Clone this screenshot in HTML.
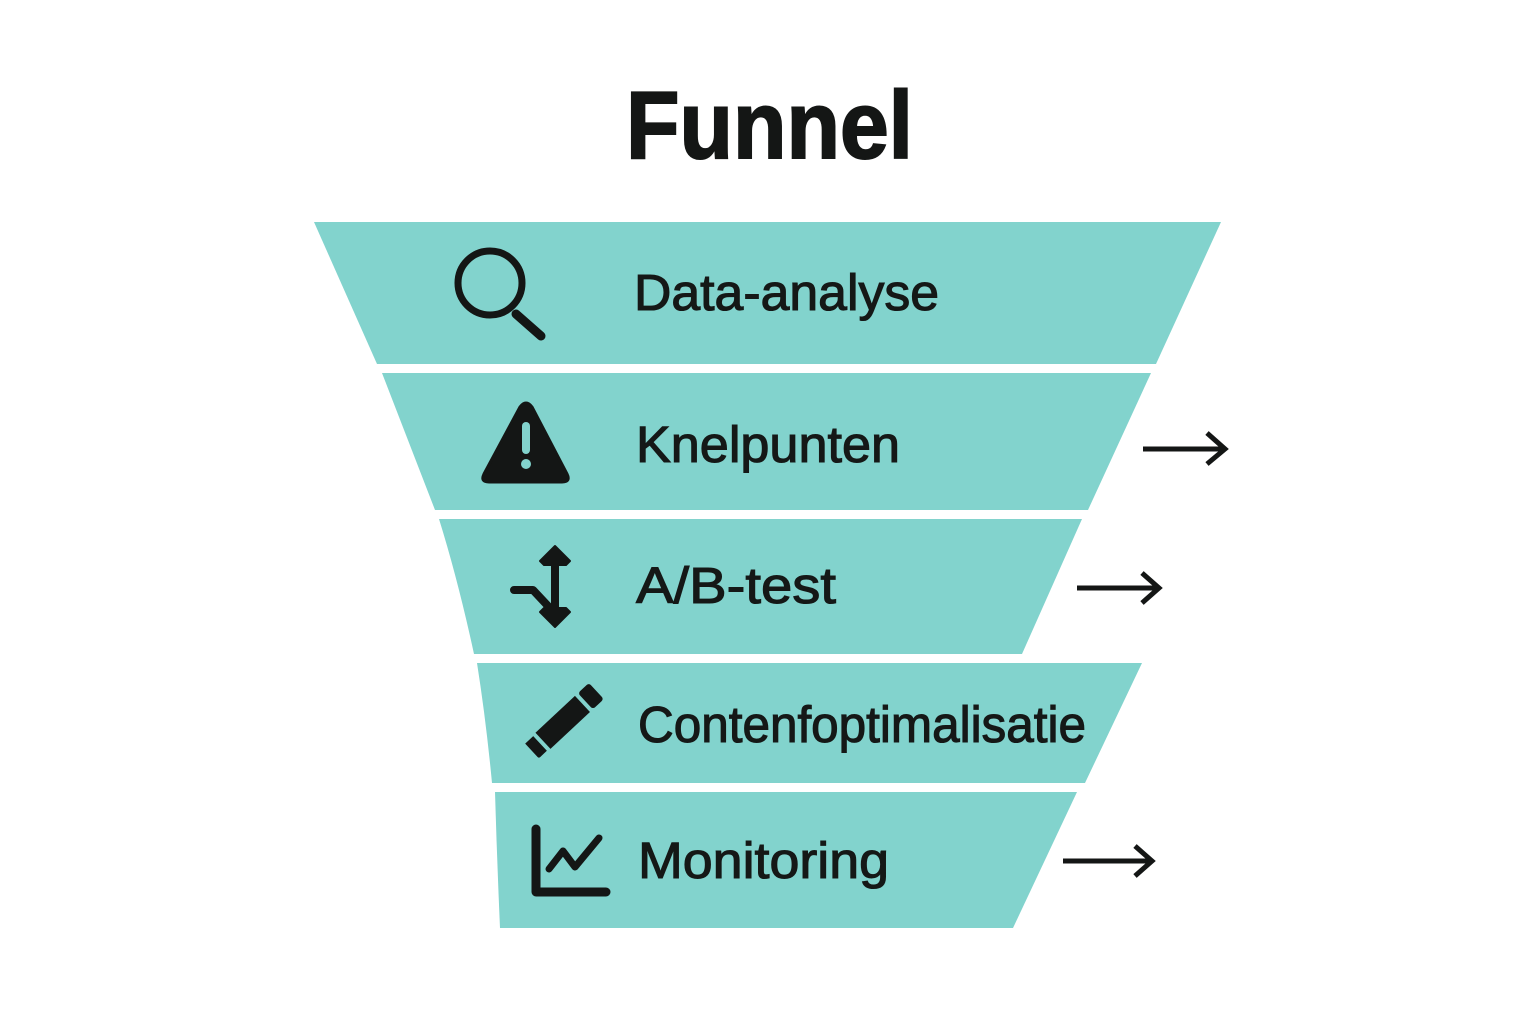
<!DOCTYPE html>
<html>
<head>
<meta charset="utf-8">
<style>
  html,body{margin:0;padding:0;background:#fff;}
  svg{display:block;}
  .lbl{font-family:"Liberation Sans",Arial,sans-serif;font-size:51px;fill:#151817;stroke:#151817;stroke-width:1.1px;}
</style>
</head>
<body>
<svg width="1536" height="1024" viewBox="0 0 1536 1024" xmlns="http://www.w3.org/2000/svg">
  <rect width="1536" height="1024" fill="#ffffff"/>

  <!-- Title -->
  <text x="626" y="158" textLength="287" lengthAdjust="spacingAndGlyphs" font-family="Liberation Sans, Arial, sans-serif" font-weight="700" font-size="96" fill="#141615" stroke="#141615" stroke-width="2">Funnel</text>

  <!-- Funnel bands -->
  <g fill="#82d3cd">
    <polygon points="314,222 1221,222 1156,364 377,364"/>
    <polygon points="382,373 1151,373 1088,510 435,510"/>
    <path d="M439,519 L1082,519 L1022,654 L474,654 Q458,580 439,519 Z"/>
    <path d="M477,663 L1142,663 L1085,783 L492,783 Q486,720 477,663 Z"/>
    <path d="M495,792 L1077,792 L1013,928 L500,928 Q497,860 495,792 Z"/>
  </g>

  <!-- Labels -->
  <text class="lbl" x="634" y="310" textLength="305" lengthAdjust="spacingAndGlyphs">Data-analyse</text>
  <text class="lbl" x="636" y="462" textLength="264" lengthAdjust="spacingAndGlyphs">Knelpunten</text>
  <text class="lbl" x="636" y="603" textLength="200" lengthAdjust="spacingAndGlyphs">A/B-test</text>
  <text class="lbl" x="638" y="742" textLength="448" lengthAdjust="spacingAndGlyphs">Contenfoptimalisatie</text>
  <text class="lbl" x="638" y="878" textLength="251" lengthAdjust="spacingAndGlyphs">Monitoring</text>

  <!-- Icon: magnifier -->
  <g fill="none" stroke="#141615" stroke-linecap="round">
    <circle cx="490" cy="283" r="32" stroke-width="7"/>
    <line x1="516" y1="314" x2="541" y2="336" stroke-width="9"/>
  </g>

  <!-- Icon: warning -->
  <path d="M520,407 Q526,399 532,407 L567,474 Q571,482 562,482 L489,482 Q480,482 484,474 Z" fill="#141615" stroke="#141615" stroke-width="3" stroke-linejoin="round"/>
  <rect x="522" y="422" width="8" height="32" rx="4" fill="#82d3cd"/>
  <circle cx="526" cy="464" r="5" fill="#82d3cd"/>

  <!-- Icon: A/B split arrows -->
  <g stroke="#141615" fill="none" stroke-width="8" stroke-linecap="round" stroke-linejoin="round">
    <line x1="555" y1="556" x2="555" y2="618"/>
    <polyline points="514,590 533,590 548,606"/>
  </g>
  <path d="M555,546 L570,561 L566,565 L544,565 L540,561 Z" fill="#141615" stroke="#141615" stroke-width="2" stroke-linejoin="round"/>
  <path d="M555,627 L570,612 L566,608 L544,608 L540,612 Z" fill="#141615" stroke="#141615" stroke-width="2" stroke-linejoin="round"/>

  <!-- Icon: pencil -->
  <g transform="translate(532,751) rotate(-43)" fill="#141615">
    <path d="M0,-10 L11,-10 L11,10 L2,10 Q0,10 0,8 Z"/>
    <rect x="15" y="-11" width="54" height="22"/>
    <rect x="73" y="-11" width="15" height="22" rx="3"/>
  </g>

  <!-- Icon: chart -->
  <g fill="none" stroke="#141615" stroke-linecap="round" stroke-linejoin="round">
    <polyline points="536,829 536,892 606,892" stroke-width="9"/>
    <polyline points="549,869 563,851 575,867 599,838" stroke-width="7"/>
  </g>

  <!-- Arrows -->
  <g fill="none" stroke="#141615" stroke-width="5" stroke-linecap="butt" stroke-linejoin="miter">
    <line x1="1143" y1="449" x2="1224" y2="449"/>
    <polyline points="1207,433 1225,449 1207,464"/>
    <line x1="1077" y1="588" x2="1158" y2="588"/>
    <polyline points="1142,573 1159,588 1142,603"/>
    <line x1="1063" y1="861" x2="1151" y2="861"/>
    <polyline points="1135,846 1152,861 1135,876"/>
  </g>
</svg>
</body>
</html>
